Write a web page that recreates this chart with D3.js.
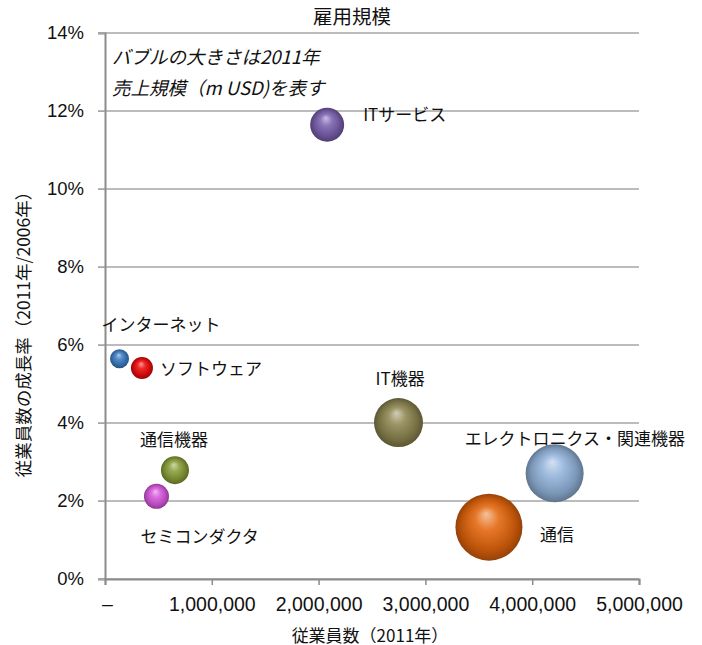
<!DOCTYPE html>
<html>
<head>
<meta charset="utf-8">
<script src="https://cdn.jsdelivr.net/npm/d3@7"></script>
<style>
  html, body { margin: 0; padding: 0; background: #fff; }
  svg { display: block; }
</style>
</head>
<body>
<svg id="chart" width="702" height="645"></svg>
<script>
// Industry sectors: employees (2011), employment growth 2011/2006 (%), revenue 2011 (m USD)
const categories = ["ITサービス", "インターネット", "ソフトウェア", "通信機器", "セミコンダクタ", "IT機器", "エレクトロニクス・関連機器", "通信"];
const employees  = [2080000, 136000, 346000, 655000, 482000, 2748000, 4210000, 3595000];
const growth     = [11.65, 5.65, 5.41, 2.79, 2.12, 4.01, 2.71, 1.33];
const revenue    = [386000, 121000, 162000, 262000, 209000, 802000, 1124000, 1500000];

const xTicks = [0, 1000000, 2000000, 3000000, 4000000, 5000000];
const yTicks = [0, 2, 4, 6, 8, 10, 12, 14];

const title = "雇用規模";
const xTitle = "従業員数（2011年）";
const yTitle = "従業員数の成長率（2011年/2006年）";
const note = ["バブルの大きさは2011年", "売上規模（m USD)を表す"];

// Sphere colours and label offsets per sector
const colors = ["#7b60ae", "#3b7cc4", "#ee0a0a", "#8a9e38", "#d858de", "#8d8550", "#93b4dc", "#e4660c"];
const labelOffsets = [[36, -11], [-18, -35], [18, -1], [-35, -32], [-16, 39], [-23, -45], [-90, -36], [51, 6]];

const svg = d3.select("#chart");
const plotLeft = 105, plotRight = 639, plotTop = 33, plotBottom = 579;

const x = d3.scaleLinear().domain([0, 5000000]).range([plotLeft, plotRight]);
const y = d3.scaleLinear().domain([0, 14]).range([plotBottom, plotTop]);
const r = d3.scaleSqrt().domain([0, 1500000]).range([0, 33.5]);

const latin = "'Liberation Sans', Arial, sans-serif";
const cjk = "'Noto Sans CJK JP', 'Noto Sans', sans-serif";

// Gradients for the 3D spheres
const defs = svg.append("defs");
colors.forEach((c, i) => {
  const base = d3.color(c);
  const g = defs.append("radialGradient")
    .attr("id", "ball" + i)
    .attr("cx", "50%").attr("cy", "50%").attr("r", "50%")
    .attr("fx", "46%").attr("fy", "30%");
  g.append("stop").attr("offset", "0%").attr("stop-color", d3.interpolateRgb(c, "#ffffff")(0.6));
  g.append("stop").attr("offset", "35%").attr("stop-color", d3.interpolateRgb(c, "#ffffff")(0.12));
  g.append("stop").attr("offset", "78%").attr("stop-color", base.darker(0.5));
  g.append("stop").attr("offset", "100%").attr("stop-color", base.darker(1.2));
});

// Horizontal gridlines
svg.append("g").selectAll("line").data(yTicks).join("line")
  .attr("x1", plotLeft - 7).attr("x2", plotRight)
  .attr("y1", d => y(d)).attr("y2", d => y(d))
  .attr("stroke", "#a6a6a6").attr("stroke-width", 1.3);

// Y axis
const yAxis = svg.append("g").attr("transform", `translate(${plotLeft},0)`)
  .call(d3.axisLeft(y).tickValues(yTicks).tickFormat(d => d + "%").tickSize(7).tickPadding(14));
yAxis.select(".domain").attr("stroke", "#8c8c8c").attr("stroke-width", 2);
yAxis.selectAll(".tick line").attr("stroke", "#a6a6a6");
yAxis.selectAll("text").attr("font-family", latin).attr("font-size", 18.5).attr("fill", "#111");

// X axis
const xAxis = svg.append("g").attr("transform", `translate(0,${plotBottom})`)
  .call(d3.axisBottom(x).tickValues(xTicks)
    .tickFormat(d => d === 0 ? "–" : d3.format(",")(d)).tickSize(6).tickPadding(12));
xAxis.select(".domain").attr("stroke", "#8c8c8c").attr("stroke-width", 2);
xAxis.selectAll(".tick line").attr("stroke", "#8c8c8c").attr("stroke-width", 1.5);
xAxis.selectAll("text").attr("font-family", latin).attr("font-size", 19.5).attr("fill", "#111");
xAxis.select(".tick text").attr("dx", 2);

// Bubbles, largest first so smaller ones sit on top
const data = categories.map((name, i) => ({ name, i, emp: employees[i], g: growth[i], rev: revenue[i] }));
const sorted = data.slice().sort((a, b) => b.rev - a.rev);
svg.append("g").selectAll("circle").data(sorted).join("circle")
  .attr("cx", d => x(d.emp))
  .attr("cy", d => y(d.g))
  .attr("r", d => r(d.rev))
  .attr("fill", d => `url(#ball${d.i})`);

// Sector labels
svg.append("g").selectAll("text").data(data).join("text")
  .attr("x", d => x(d.emp) + labelOffsets[d.i][0])
  .attr("y", d => y(d.g) + labelOffsets[d.i][1])
  .attr("dominant-baseline", "central")
  .attr("font-family", cjk).attr("font-size", 17).attr("fill", "#111")
  .text(d => d.name);

// Title
svg.append("text").attr("x", 352).attr("y", 15)
  .attr("text-anchor", "middle").attr("dominant-baseline", "central")
  .attr("font-family", cjk).attr("font-size", 19.5).attr("fill", "#111")
  .text(title);

// Note about bubble size
svg.append("g").selectAll("text").data(note).join("text")
  .attr("x", 112).attr("y", (d, i) => 56 + i * 31)
  .attr("dominant-baseline", "central")
  .attr("font-family", cjk).attr("font-size", 18.5).attr("font-style", "italic").attr("fill", "#111")
  .text(d => d);

// Axis titles
svg.append("text").attr("x", 370).attr("y", 634)
  .attr("text-anchor", "middle").attr("dominant-baseline", "central")
  .attr("font-family", cjk).attr("font-size", 17).attr("fill", "#111")
  .text(xTitle);

svg.append("text")
  .attr("transform", "translate(22,330) rotate(-90)")
  .attr("text-anchor", "middle").attr("dominant-baseline", "central")
  .attr("font-family", cjk).attr("font-size", 17.5).attr("fill", "#111")
  .text(yTitle);
</script>
</body>
</html>
